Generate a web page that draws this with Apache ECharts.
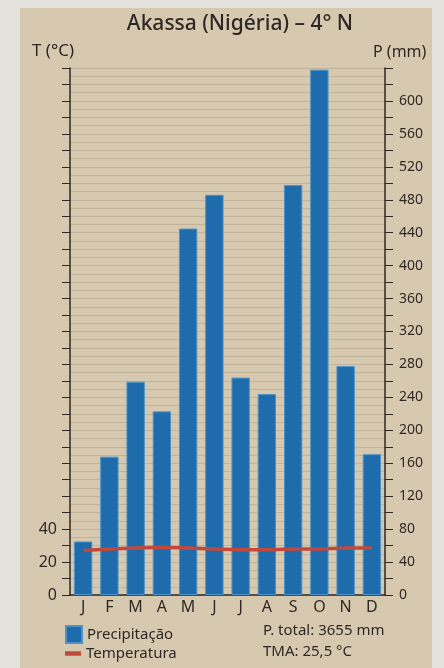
<!DOCTYPE html>
<html>
<head>
<meta charset="utf-8">
<script src="https://cdn.jsdelivr.net/npm/echarts@6/dist/echarts.min.js"></script>
<style>
  html, body { margin: 0; padding: 0; background: #e3e1dc; }
  #chart { width: 444px; height: 668px; }
</style>
</head>
<body>
<div id="chart"></div>
<script>
// data
const months = ['J', 'F', 'M', 'A', 'M', 'J', 'J', 'A', 'S', 'O', 'N', 'D'];
const precip = [65, 168, 259, 223, 445, 486, 264, 244, 498, 638, 278, 171];
const temp = [27, 28, 28.5, 29, 28.5, 28, 27.5, 27.5, 28, 28, 28.5, 28.5];
const tLabels = [0, 20, 40];
const pLabelStep = 40;

const ink = '#2f2925';
const font = '"Noto Sans", "Open Sans", sans-serif';

document.addEventListener('DOMContentLoaded', function() {
    const chart = echarts.init(document.getElementById('chart'));
    const legendText = { fontSize: 15, color: ink, fontFamily: font };
    const option = {
        animation: false,
        textStyle: { fontFamily: font, color: ink },
        title: {
            text: 'Akassa (Nigéria) – 4° N',
            left: 235, top: 9, textAlign: 'center',
            textStyle: { fontSize: 21, fontWeight: 500, color: ink, fontFamily: font }
        },
        graphic: [
            { type: 'rect', z: -10, shape: { x: 20, y: 8, width: 412, height: 660 }, style: { fill: '#d7c9b0' } },
            { type: 'text', left: 263, top: 623, style: { text: 'P. total: 3655 mm', fontSize: 15, fill: ink, fontFamily: font } },
            { type: 'text', left: 263, top: 644, style: { text: 'TMA: 25,5 °C', fontSize: 15, fill: ink, fontFamily: font } }
        ],
        legend: [{
            left: 60, top: 620, itemGap: 0, itemWidth: 16, itemHeight: 17,
            textStyle: legendText,
            data: [{ name: 'Precipitação', icon: 'rect' }]
        }, {
            left: 60, top: 641, itemGap: 0, itemWidth: 16, itemHeight: 17,
            textStyle: legendText,
            data: [{ name: 'Temperatura', icon: 'path://M0,6L10,6L10,8.8L0,8.8Z' }]
        }],
        grid: { left: 70, right: 59, top: 68, bottom: 73 },
        xAxis: {
            type: 'category',
            data: months,
            axisLine: { lineStyle: { color: ink, width: 1.5 } },
            axisTick: { show: false },
            axisLabel: { color: ink, fontSize: 16, margin: 4, fontFamily: font }
        },
        yAxis: [{
            type: 'value', min: 0, max: 320, interval: 10,
            name: 'T (°C)', nameLocation: 'end', nameGap: 8,
            nameTextStyle: { align: 'right', fontSize: 17, color: ink, padding: [0, -4, 0, 0] },
            axisLine: { show: true, lineStyle: { color: ink, width: 1.5 } },
            axisTick: { show: true, inside: false, length: 8, lineStyle: { color: ink } },
            axisLabel: {
                color: ink, fontSize: 16, margin: 13,
                formatter: function(v) { return tLabels.indexOf(v) >= 0 ? String(v) : ''; }
            },
            splitLine: { show: false }
        }, {
            type: 'value', min: 0, max: 640, interval: 20,
            position: 'right',
            name: 'P (mm)', nameLocation: 'end', nameGap: 8,
            nameTextStyle: { align: 'left', fontSize: 16, color: ink, padding: [0, 0, 0, -12] },
            axisLine: { show: true, lineStyle: { color: ink, width: 1.5 } },
            axisTick: { show: true, length: 8, lineStyle: { color: ink } },
            axisLabel: {
                color: ink, fontSize: 14, margin: 14,
                formatter: function(v) { return v % pLabelStep === 0 && v <= 600 ? String(v) : ''; }
            },
            splitLine: { show: true, lineStyle: { color: '#c0b39b', width: 1 } },
            minorTick: { show: false, splitNumber: 2 },
            minorSplitLine: { show: true, lineStyle: { color: '#c0b39b', width: 1 } }
        }],
        series: [{
            name: 'Precipitação',
            type: 'bar',
            yAxisIndex: 1,
            barWidth: '70%',
            itemStyle: { color: '#1f6cad', borderColor: '#4d93c9', borderWidth: 1 },
            data: precip
        }, {
            name: 'Temperatura',
            type: 'line',
            yAxisIndex: 0,
            symbol: 'none',
            lineStyle: { color: '#c4473b', width: 3.5 },
            itemStyle: { color: '#c4473b' },
            data: temp
        }]
    };
    chart.setOption(option);
});
</script>
</body>
</html>
